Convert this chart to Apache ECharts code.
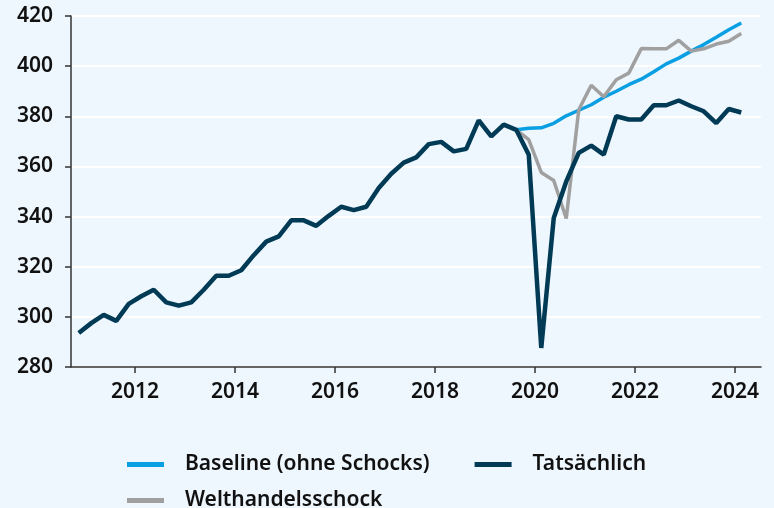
<!DOCTYPE html>
<html>
<head>
<meta charset="utf-8">
<script src="https://cdn.jsdelivr.net/npm/echarts@6/dist/echarts.min.js"></script>
<style>
html,body{margin:0;padding:0;background:#eef6fe;}
#chart{width:774px;height:508px;}
</style>
</head>
<body>
<div id="chart"></div>
<script>
const quarters = [
  '2011Q1','2011Q2','2011Q3','2011Q4','2012Q1','2012Q2','2012Q3','2012Q4',
  '2013Q1','2013Q2','2013Q3','2013Q4','2014Q1','2014Q2','2014Q3','2014Q4',
  '2015Q1','2015Q2','2015Q3','2015Q4','2016Q1','2016Q2','2016Q3','2016Q4',
  '2017Q1','2017Q2','2017Q3','2017Q4','2018Q1','2018Q2','2018Q3','2018Q4',
  '2019Q1','2019Q2','2019Q3','2019Q4','2020Q1','2020Q2','2020Q3','2020Q4',
  '2021Q1','2021Q2','2021Q3','2021Q4','2022Q1','2022Q2','2022Q3','2022Q4',
  '2023Q1','2023Q2','2023Q3','2023Q4','2024Q1','2024Q2'
];
const actual = [
  293.6, 297.5, 300.8, 298.4, 305.2, 308.2, 310.8, 305.8,
  304.5, 305.8, 310.8, 316.4, 316.4, 318.6, 324.6, 330.0,
  332.1, 338.5, 338.5, 336.3, 340.3, 343.9, 342.6, 343.9,
  351.4, 357.1, 361.5, 363.6, 368.9, 369.8, 366.0, 367.0,
  378.4, 372.0, 376.7, 374.6, 364.7, 287.6, 339.4, 354.0,
  365.4, 368.3, 364.7, 380.0, 378.7, 378.7, 384.4, 384.4,
  386.3, 384.0, 382.0, 377.3, 382.9, 381.5
];
const baseline = [
  null, null, null, null, null, null, null, null,
  null, null, null, null, null, null, null, null,
  null, null, null, null, null, null, null, null,
  null, null, null, null, null, null, null, null,
  null, null, null, 374.6, 375.2, 375.4, 377.2, 380.2,
  382.4, 384.6, 387.6, 390.0, 392.6, 394.8, 397.8, 400.9,
  403.2, 406.0, 408.6, 411.5, 414.5, 417.2
];
const shock = [
  null, null, null, null, null, null, null, null,
  null, null, null, null, null, null, null, null,
  null, null, null, null, null, null, null, null,
  null, null, null, null, null, null, null, null,
  null, null, null, 374.6, 370.7, 357.6, 354.4, 339.2,
  382.6, 392.4, 387.8, 394.6, 397.2, 407.0, 406.9, 406.9,
  410.3, 406.0, 406.9, 408.8, 409.9, 413.0
];
const xTickYears = [2012, 2014, 2016, 2018, 2020, 2022, 2024];
const yTicks = [280, 300, 320, 340, 360, 380, 400, 420];
const seriesNames = ['Baseline (ohne Schocks)', 'Tatsächlich', 'Welthandelsschock'];

// position of a quarter on the (fractional year) time axis
function qPos(q) {
  const y = parseInt(q.slice(0, 4), 10);
  const n = parseInt(q.slice(5), 10);
  return y + (n - 1) * 0.25 - 0.125;
}
function pairs(vals) {
  return quarters.map((q, i) => [qPos(q), vals[i]]);
}

const FONT = 'Noto Sans';
const FS = 21;
const chart = echarts.init(document.getElementById('chart'), null, {renderer: 'canvas'});
chart.setOption({
  backgroundColor: '#eef6fe',
  animation: false,
  grid: {left: 71, right: 13, top: 16, bottom: 141, containLabel: false},
  xAxis: {
    type: 'value',
    min: 2010.72,
    max: 2024.52,
    axisLine: {show: true, lineStyle: {color: '#333333', width: 1.5}},
    axisTick: {show: true, length: 6, customValues: xTickYears, lineStyle: {color: '#333333', width: 1.5}},
    axisLabel: {
      customValues: xTickYears,
      margin: 15,
      color: '#111111',
      fontFamily: FONT,
      fontWeight: 600,
      fontSize: FS,
      formatter: v => String(Math.round(v))
    },
    splitLine: {show: false}
  },
  yAxis: {
    type: 'value',
    min: yTicks[0],
    max: yTicks[yTicks.length - 1],
    interval: 20,
    axisLine: {show: true, lineStyle: {color: '#333333', width: 1.5}},
    axisTick: {show: true, length: 6, lineStyle: {color: '#333333', width: 1.5}},
    axisLabel: {
      margin: 18,
      color: '#111111',
      fontFamily: FONT,
      fontWeight: 600,
      fontSize: FS
    },
    splitLine: {show: true, lineStyle: {color: '#ffffff', width: 2}}
  },
  legend: [
    {
      data: [seriesNames[0], seriesNames[1]],
      left: 122,
      top: 449,
      icon: 'rect',
      itemWidth: 37,
      itemHeight: 5,
      itemGap: 45,
      textStyle: {fontFamily: FONT, fontWeight: 600, fontSize: FS, color: '#111111', padding: [0, 0, 0, 16]}
    },
    {
      data: [seriesNames[2]],
      left: 122,
      top: 485,
      icon: 'rect',
      itemWidth: 37,
      itemHeight: 5,
      textStyle: {fontFamily: FONT, fontWeight: 600, fontSize: FS, color: '#111111', padding: [0, 0, 0, 16]}
    }
  ],
  series: [
    {
      name: seriesNames[0],
      type: 'line',
      data: pairs(baseline),
      showSymbol: false,
      connectNulls: false,
      z: 2,
      itemStyle: {color: '#0a9fe2'},
      lineStyle: {color: '#0a9fe2', width: 3.5}
    },
    {
      name: seriesNames[1],
      type: 'line',
      data: pairs(actual),
      showSymbol: false,
      z: 4,
      itemStyle: {color: '#003a55'},
      lineStyle: {color: '#003a55', width: 4.5}
    },
    {
      name: seriesNames[2],
      type: 'line',
      data: pairs(shock),
      showSymbol: false,
      z: 3,
      itemStyle: {color: '#a0a0a0'},
      lineStyle: {color: '#a0a0a0', width: 3.5}
    }
  ]
});
</script>
</body>
</html>
